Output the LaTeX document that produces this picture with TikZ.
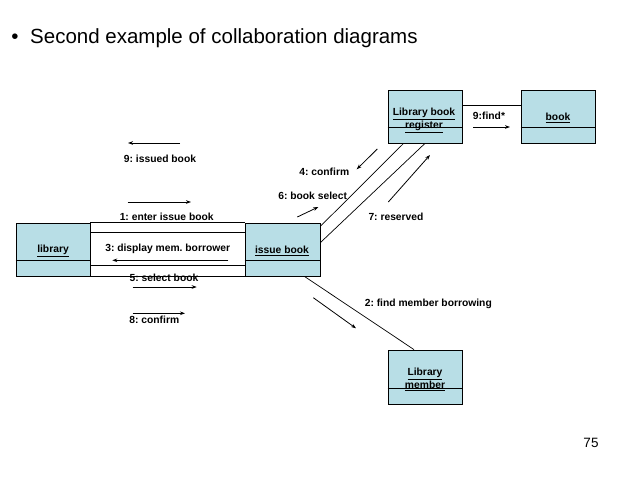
\documentclass[tikz,border=0pt]{standalone}
\usepackage{fontspec}
\setmainfont{Liberation Sans}
\usetikzlibrary{arrows.meta,calc}
\definecolor{boxfill}{RGB}{184,222,230}
\frenchspacing
\tikzset{
  obj/.style={draw=black, fill=boxfill, line width=0.8pt, inner sep=0pt, minimum width=74pt, minimum height=53pt},
  lbl/.style={font=\fontsize{10.3}{11}\selectfont\bfseries, inner sep=0pt},
  objlbl/.style={font=\fontsize{10.3}{12.5}\selectfont\bfseries, inner sep=0pt, align=center},
  link/.style={draw=black, line width=0.7pt},
  msg/.style={draw=black, line width=0.8pt, -{Stealth[length=5pt,width=3.6pt]}}
}
\begin{document}
\begin{tikzpicture}[x=1pt,y=-1pt]
\useasboundingbox (0,0) rectangle (638,479);
% title
\node[font=\fontsize{20.5}{24}\selectfont, anchor=base west, inner sep=0pt] (title) at (30,43) {Second example of collaboration diagrams};
\node[font=\fontsize{20.5}{24}\selectfont, anchor=base, inner sep=0pt] (bullet) at (15,43) {•};
% object boxes
\node[obj, minimum width=74pt] (lib) at (53,249.5) {};
\node[obj, minimum width=75pt] (iss) at (282.5,249.5) {};
\node[obj] (reg) at (425,116.5) {};
\node[obj] (bk) at (558,116.5) {};
\node[obj, minimum height=54pt] (mem) at (425,377) {};
% dividers
\draw[link] ($(lib.south west)+(0,-16)$) -- ($(lib.south east)+(0,-16)$);
\draw[link] ($(iss.south west)+(0,-16)$) -- ($(iss.south east)+(0,-16)$);
\draw[link] ($(reg.south west)+(0,-16)$) -- ($(reg.south east)+(0,-16)$);
\draw[link] ($(bk.south west)+(0,-16)$) -- ($(bk.south east)+(0,-16)$);
\draw[link] ($(mem.south west)+(0,-16)$) -- ($(mem.south east)+(0,-16)$);
% object labels
\node[objlbl] (libl) at (53,251) {\underline{library}};
\node[objlbl] (issl) at (282,251) {\underline{issue book}};
\node[objlbl] (regl) at (424,120.5) {\underline{Library book}\\\underline{register}};
\node[objlbl] (bkl) at (558,118) {\underline{book}};
\node[objlbl] (meml) at (425,379.5) {\underline{Library}\\\underline{member}};
% links
\draw[link] (lib.north east) -- (iss.north west);
\draw[link] ($(lib.north east)+(0,10)$) -- ($(iss.north west)+(0,10)$);
\draw[link] ($(lib.south east)+(0,-11)$) -- ($(iss.south west)+(0,-11)$);
\draw[link] (lib.south east) -- (iss.south west);
\draw[link] ($(iss.north east)+(0,3.7)$) -- ($(reg.south west)+(16,0)$);
\draw[link] ($(iss.north east)+(0,20)$) -- ($(reg.south)+(0,0)$);
\draw[link] ($(iss.south east)+(-16,0)$) -- ($(mem.north)+(-11,0)$);
\draw[link] ($(reg.north east)+(0,16)$) -- ($(bk.north west)+(0,16)$);
% messages
\draw[msg] (180,143) -- (128,143);
\node[lbl] (m9) at (160,159.3) {9: issued book};
\draw[msg] (127.7,202) -- (191,202);
\node[lbl] (m1) at (166.7,217) {1: enter issue book};
\draw[msg] (228.3,260.3) -- (112.3,260.3);
\node[lbl] (m3) at (167.7,249.3) {3: display mem. borrower};
\draw[msg] (132.7,287) -- (196.7,287);
\node[lbl] (m5) at (164,278.3) {5: select book};
\draw[msg] (132.7,313.3) -- (185,313.3);
\node[lbl] (m8) at (154.3,320) {8: confirm};
\draw[msg] (377.3,149) -- (356.7,169.3);
\node[lbl] (m4) at (324.3,172.3) {4: confirm};
\draw[msg] (297.3,217) -- (318.3,207);
\node[lbl] (m6) at (312.7,196) {6: book select};
\draw[msg] (388.3,202) -- (430,155);
\node[lbl] (m7) at (396,217) {7: reserved};
\draw[msg] (313.3,297.7) -- (356,328.3);
\node[lbl] (m2) at (428.3,304) {2: find member borrowing};
\draw[msg] (473.3,127) -- (510,127);
\node[lbl] (m9f) at (489,116) {9:find*};
% page number
\node[font=\fontsize{13.5}{15}\selectfont, inner sep=0pt] (pg) at (591,443) {75};
\end{tikzpicture}
\end{document}
